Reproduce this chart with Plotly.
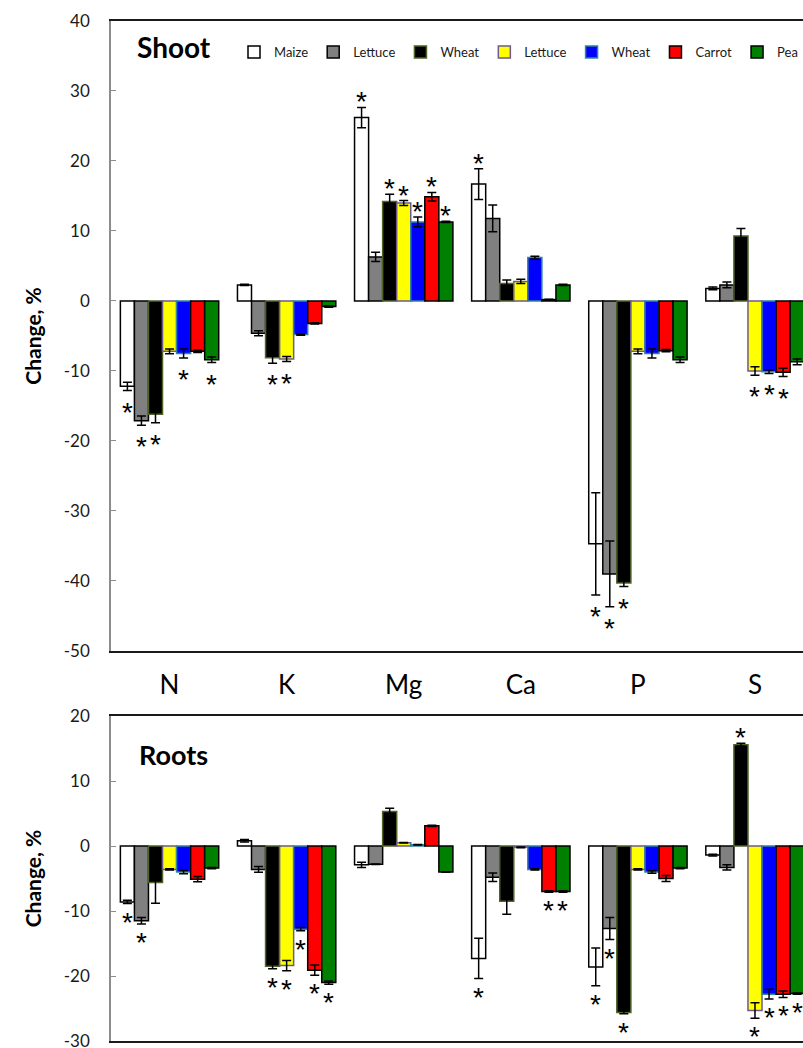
import plotly.graph_objects as go

# ---------------- data ----------------
categories = ["N", "K", "Mg", "Ca", "P", "S"]
series_names = ["Maize", "Lettuce", "Wheat", "Lettuce", "Wheat", "Carrot", "Pea"]
fill_colors = ["#ffffff", "#808080", "#000000", "#ffff00", "#0000ff", "#ff0000", "#008000"]
edge_colors = ["#000000", "#000000", "#4f6228", "#6b5b8c", "#31859c", "#000000", "#000000"]

# Shoot (change, %)
shoot_maize    = [-12.2,  2.3, 26.2, 16.7, -34.7,   1.8]
shoot_lettuce  = [-17.1, -4.6,  6.3, 11.8, -39.0,   2.3]
shoot_wheat    = [-16.2, -8.1, 14.2,  2.5, -40.3,   9.3]
shoot_lettuce2 = [ -7.2, -8.3, 14.0,  2.8,  -7.2, -10.0]
shoot_wheat2   = [ -7.5, -4.8, 11.3,  6.2,  -7.5, -10.1]
shoot_carrot   = [ -7.2, -3.2, 14.9,  0.2,  -7.1, -10.2]
shoot_pea      = [ -8.4, -0.8, 11.3,  2.3,  -8.4,  -8.7]

shoot_maize_err    = [0.6, 0.1, 1.45, 2.2, 7.3, 0.2]
shoot_lettuce_err  = [0.65, 0.35, 0.65, 1.9, 4.7, 0.4]
shoot_wheat_err    = [1.2, 0.8, 1.05, 0.5, 0.5, 1.05]
shoot_lettuce2_err = [0.35, 0.35, 0.35, 0.3, 0.35, 0.6]
shoot_wheat2_err   = [0.65, 0.1, 0.7, 0.2, 0.65, 0.25]
shoot_carrot_err   = [0.15, 0.1, 0.6, 0.05, 0.15, 0.6]
shoot_pea_err      = [0.4, 0.1, 0.1, 0.1, 0.4, 0.4]

# significance (asterisk) flags, shoot
shoot_maize_sig    = [1, 0, 1, 1, 1, 0]
shoot_lettuce_sig  = [1, 0, 0, 0, 1, 0]
shoot_wheat_sig    = [1, 1, 1, 0, 1, 0]
shoot_lettuce2_sig = [0, 1, 1, 0, 0, 1]
shoot_wheat2_sig   = [1, 0, 1, 0, 0, 1]
shoot_carrot_sig   = [0, 0, 1, 0, 0, 1]
shoot_pea_sig      = [1, 0, 1, 0, 0, 0]

# Roots (change, %)
roots_maize    = [ -8.6,   0.8, -2.9, -17.3, -18.6,  -1.4]
roots_lettuce  = [-11.5,  -3.6, -2.8,  -4.8, -12.7,  -3.3]
roots_wheat    = [ -5.6, -18.5,  5.3,  -8.5, -25.6,  15.6]
roots_lettuce2 = [ -3.6, -18.4,  0.5,  -0.2,  -3.6, -25.3]
roots_wheat2   = [ -4.0, -12.8,  0.2,  -3.6,  -4.0, -22.8]
roots_carrot   = [ -5.1, -19.1,  3.1,  -7.0,  -5.0, -22.8]
roots_pea      = [ -3.4, -21.0, -4.0,  -7.0,  -3.4, -22.7]

roots_maize_err    = [0.25, 0.2, 0.4, 3.1, 2.9, 0.15]
roots_lettuce_err  = [0.5, 0.45, 0.05, 0.65, 1.7, 0.4]
roots_wheat_err    = [3.2, 0.4, 0.5, 2.0, 0.2, 0.2]
roots_lettuce2_err = [0.1, 0.8, 0.05, 0.05, 0.1, 1.2]
roots_wheat2_err   = [0.25, 0.25, 0.05, 0.1, 0.2, 0.75]
roots_carrot_err   = [0.4, 0.8, 0.1, 0.1, 0.45, 0.5]
roots_pea_err      = [0.1, 0.25, 0.05, 0.1, 0.1, 0.1]

roots_maize_sig    = [1, 0, 0, 1, 1, 0]
roots_lettuce_sig  = [1, 0, 0, 0, 1, 0]
roots_wheat_sig    = [0, 1, 0, 0, 1, 1]
roots_lettuce2_sig = [0, 1, 0, 0, 0, 1]
roots_wheat2_sig   = [0, 1, 0, 0, 0, 1]
roots_carrot_sig   = [0, 1, 0, 1, 0, 1]
roots_pea_sig      = [0, 1, 0, 1, 0, 1]

y_ticks_shoot = [40, 30, 20, 10, 0, -10, -20, -30, -40, -50]
y_ticks_roots = [20, 10, 0, -10, -20, -30]

shoot_vals = [shoot_maize, shoot_lettuce, shoot_wheat, shoot_lettuce2, shoot_wheat2, shoot_carrot, shoot_pea]
shoot_errs = [shoot_maize_err, shoot_lettuce_err, shoot_wheat_err, shoot_lettuce2_err, shoot_wheat2_err, shoot_carrot_err, shoot_pea_err]
shoot_sigs = [shoot_maize_sig, shoot_lettuce_sig, shoot_wheat_sig, shoot_lettuce2_sig, shoot_wheat2_sig, shoot_carrot_sig, shoot_pea_sig]
roots_vals = [roots_maize, roots_lettuce, roots_wheat, roots_lettuce2, roots_wheat2, roots_carrot, roots_pea]
roots_errs = [roots_maize_err, roots_lettuce_err, roots_wheat_err, roots_lettuce2_err, roots_wheat2_err, roots_carrot_err, roots_pea_err]
roots_sigs = [roots_maize_sig, roots_lettuce_sig, roots_wheat_sig, roots_lettuce2_sig, roots_wheat2_sig, roots_carrot_sig, roots_pea_sig]

# ---------------- layout constants ----------------
FONT = "Lato, 'Open Sans', sans-serif"
BARGAP = 0.16
NSER = len(series_names)
XRANGE = [-0.5, 5.41]
SHOOT_RANGE = [-50, 40]
ROOTS_RANGE = [-30, 20]
SHOOT_DOMAIN = [0.3824, 1.0]
ROOTS_DOMAIN = [0.0, 0.3186]

fig = go.Figure()
annotations = []


def bar_center(i, k):
    group = 1 - BARGAP
    return i - group / 2 + (k + 0.5) * group / NSER


def add_panel(vals, errs, sigs, xa, ya, show_legend, below_shift):
    for k in range(NSER):
        fig.add_trace(go.Bar(
            x=categories, y=vals[k], name=series_names[k],
            xaxis=xa, yaxis=ya,
            marker=dict(color=fill_colors[k], line=dict(color=edge_colors[k], width=1.5)),
            error_y=dict(type="data", array=errs[k], visible=True,
                         color="black", thickness=1.5, width=4.5),
            legendgroup=f"s{k}", showlegend=show_legend,
        ))
        for i in range(len(categories)):
            if sigs[k][i]:
                v = vals[k][i]
                e = errs[k][i]
                if v >= 0:
                    yv, ys = v + e, 6
                else:
                    yv, ys = v - e, below_shift
                annotations.append(dict(
                    x=bar_center(i, k), y=yv, xref=xa, yref=ya,
                    text="*", showarrow=False, yanchor="middle", yshift=ys,
                    height=20, valign="middle",
                    font=dict(family="Liberation Sans, Arial, sans-serif", size=28, color="black"),
                ))


add_panel(shoot_vals, shoot_errs, shoot_sigs, "x", "y", True, -21)
add_panel(roots_vals, roots_errs, roots_sigs, "x2", "y2", False, -18)


def zero_pos(domain, rng):
    return domain[0] + (domain[1] - domain[0]) * (0 - rng[0]) / (rng[1] - rng[0])


annotations.append(dict(text="<b>Shoot</b>", x=0.091, y=0.9745, xref="paper", yref="paper",
                        showarrow=False, xanchor="center", yanchor="middle",
                        font=dict(family=FONT, size=28, color="black")))
annotations.append(dict(text="<b>Roots</b>", x=0.0903, y=0.2807, xref="paper", yref="paper",
                        showarrow=False, xanchor="center", yanchor="middle",
                        font=dict(family=FONT, size=27, color="black")))

axis_common_x = dict(range=XRANGE, showgrid=False, zeroline=False, showline=True,
                     linecolor="#1a1a1a", linewidth=1.5, mirror=True, fixedrange=True)
yaxis_common = dict(showgrid=False, zeroline=False, showline=True, linecolor="#8c8c8c",
                    linewidth=1.5, ticks="inside", ticklen=5, tickcolor="#8c8c8c",
                    tickfont=dict(family=FONT, size=17, color="#1a1a1a"),
                    ticklabelstandoff=16, ticklabeloverflow="allow",
                    title=dict(text="Change, %", font=dict(family=FONT, size=21, color="black", weight="bold"),
                               standoff=16))
zero_axis = dict(anchor="free", range=XRANGE, tickvals=[0.5, 1.5, 2.5, 3.5, 4.5],
                 ticks="inside", ticklen=6, tickwidth=1.5, tickcolor="black", showticklabels=False,
                 showline=True, linecolor="black", linewidth=1.5, showgrid=False, zeroline=False)

fig.update_layout(
    width=803, height=1048,
    margin=dict(l=111, r=0, t=21, b=7, autoexpand=False),
    paper_bgcolor="white", plot_bgcolor="white",
    barmode="group", bargap=BARGAP, bargroupgap=0,
    font=dict(family=FONT, color="black"),
    xaxis=dict(axis_common_x, domain=[0, 1], anchor="y", ticks="outside", ticklen=10,
               tickcolor="rgba(0,0,0,0)", tickfont=dict(family=FONT, size=26, color="black")),
    xaxis2=dict(axis_common_x, domain=[0, 1], anchor="y2", showticklabels=False),
    xaxis3=dict(zero_axis, overlaying="x", position=zero_pos(SHOOT_DOMAIN, SHOOT_RANGE)),
    xaxis4=dict(zero_axis, overlaying="x2", position=zero_pos(ROOTS_DOMAIN, ROOTS_RANGE)),
    yaxis=dict(yaxis_common, domain=SHOOT_DOMAIN, range=SHOOT_RANGE, tickvals=y_ticks_shoot,
               ticktext=[str(v) for v in y_ticks_shoot]),
    yaxis2=dict(yaxis_common, domain=ROOTS_DOMAIN, range=ROOTS_RANGE, tickvals=y_ticks_roots,
                ticktext=[str(v) for v in y_ticks_roots]),
    legend=dict(orientation="h", x=1.0, xanchor="right", y=0.9696, yanchor="middle",
                font=dict(family=FONT, size=13, color="#1a1a1a"), bgcolor="rgba(0,0,0,0)",
                traceorder="normal"),
    annotations=annotations,
    showlegend=True,
)

fig.write_html("out.html")
